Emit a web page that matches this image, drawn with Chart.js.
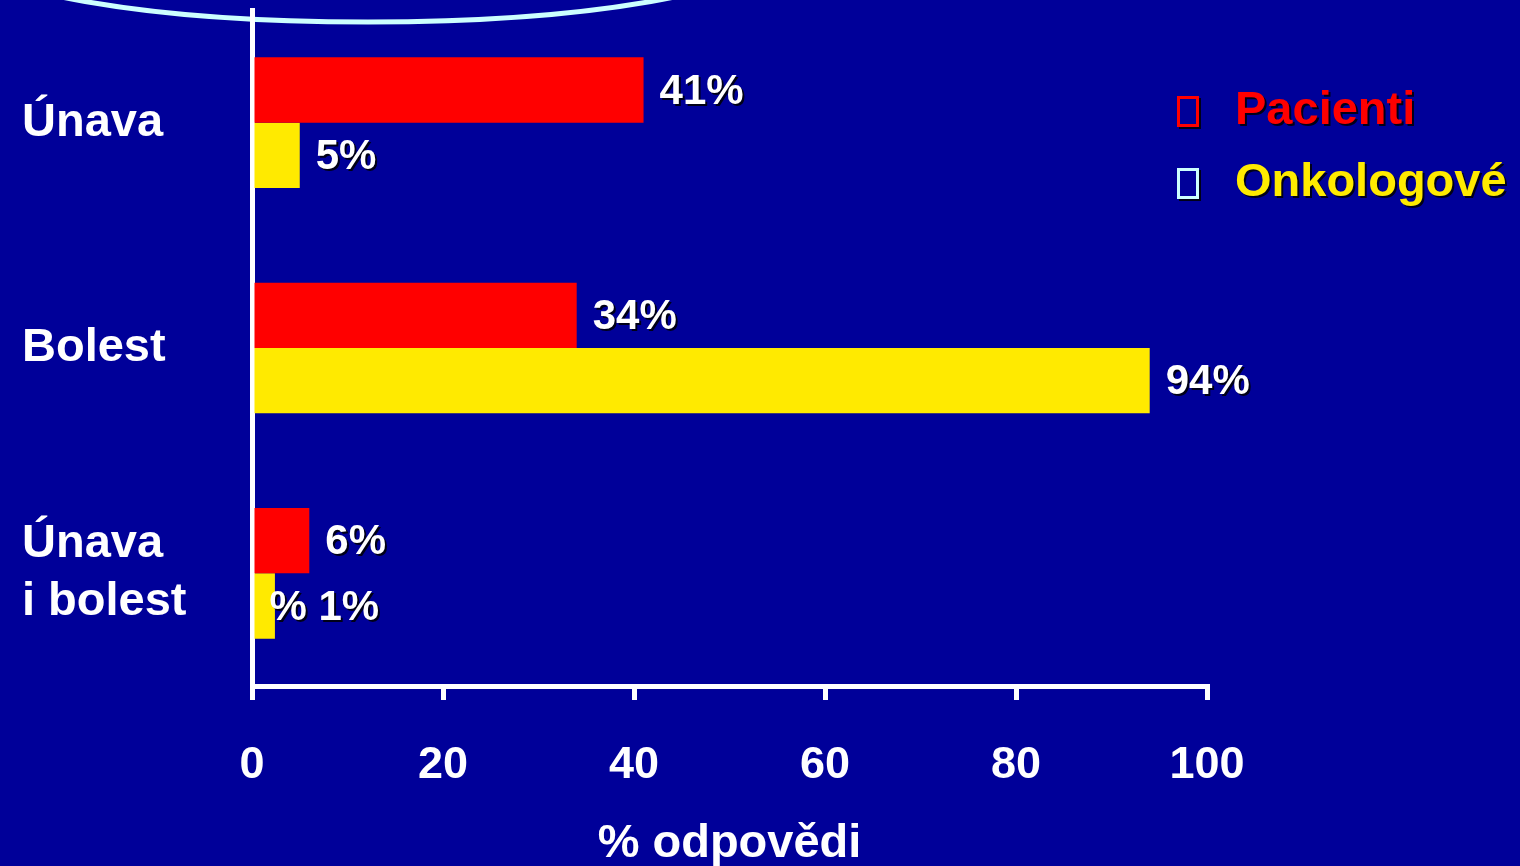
<!DOCTYPE html>
<html lang="cs">
<head>
<meta charset="UTF-8" />
<title>Únava a bolest</title>
<script src="https://cdn.jsdelivr.net/npm/chart.js"></script>
<style>
  html, body { margin: 0; padding: 0; background: #000099; }
  canvas { display: block; }
</style>
</head>
<body>
<canvas id="myChart" width="1520" height="866"></canvas>
<script>
const categories = [["Únava"], ["Bolest"], ["Únava", "i bolest"]];
const seriesNames = ["Pacienti", "Onkologové"];
const pacienti = [41, 34, 6];
const onkologove = [5, 94, 2.4];
const pacientiLabels = ["41%", "34%", "6%"];
const onkologoveLabels = ["5%", "94%", "% 1%"];
const xTicks = [0, 20, 40, 60, 80, 100];

const FONT = 'Arial, "Liberation Sans", sans-serif';
const BG = "#000099";
const RED = "#ff0000";
const YELLOW = "#ffea00";

// background + the pale arc at the top
const backdrop = {
  id: "backdrop",
  beforeDraw(chart) {
    const ctx = chart.ctx;
    ctx.save();
    ctx.fillStyle = BG;
    ctx.fillRect(0, 0, chart.width, chart.height);
    ctx.beginPath();
    ctx.ellipse(368, 22 - 70, 400, 70, 0, 0, Math.PI);
    ctx.strokeStyle = "#ccffff";
    ctx.lineWidth = 5;
    ctx.stroke();
    ctx.restore();
  }
};

function shadowText(ctx, txt, x, y, color) {
  ctx.fillStyle = "rgba(0,0,0,0.85)";
  ctx.fillText(txt, x + 2, y + 2);
  ctx.fillStyle = color;
  ctx.fillText(txt, x, y);
}

// value labels next to the bars
const barLabels = {
  id: "barLabels",
  afterDatasetsDraw(chart) {
    const ctx = chart.ctx;
    const labelSets = [pacientiLabels, onkologoveLabels];
    ctx.save();
    ctx.font = "bold 42px " + FONT;
    ctx.textAlign = "left";
    ctx.textBaseline = "middle";
    chart.data.datasets.forEach((ds, i) => {
      chart.getDatasetMeta(i).data.forEach((el, j) => {
        const txt = labelSets[i][j];
        const x = txt.startsWith("%") ? el.base + 15 : el.x + 16;
        shadowText(ctx, txt, x, el.y + 2, "#ffffff");
      });
    });
    ctx.restore();
  }
};

// legend with outlined boxes
const boxLegend = {
  id: "boxLegend",
  afterDraw(chart) {
    const ctx = chart.ctx;
    const boxColors = [RED, "#ccffff"];
    ctx.save();
    ctx.font = "bold 47px " + FONT;
    ctx.textBaseline = "middle";
    chart.data.datasets.forEach((ds, i) => {
      const y = 111 + i * 72;
      ctx.fillStyle = "rgba(0,0,0,0.85)";
      ctx.fillRect(1179, y - 13, 22, 31);
      ctx.fillStyle = BG;
      ctx.fillRect(1177, y - 15, 22, 31);
      ctx.strokeStyle = boxColors[i];
      ctx.lineWidth = 3;
      ctx.strokeRect(1178.5, y - 13.5, 19, 28);
      shadowText(ctx, ds.label, 1235, y, ds.backgroundColor);
    });
    ctx.restore();
  }
};

new Chart(document.getElementById("myChart"), {
  type: "bar",
  data: {
    labels: categories,
    datasets: [
      { label: seriesNames[0], data: pacienti, backgroundColor: RED },
      { label: seriesNames[1], data: onkologove, backgroundColor: YELLOW }
    ]
  },
  options: {
    indexAxis: "y",
    responsive: false,
    animation: false,
    devicePixelRatio: 1,
    categoryPercentage: 0.58,
    barPercentage: 1.0,
    layout: { padding: { left: 22, right: 313, top: 10, bottom: 0 } },
    plugins: {
      legend: { display: false },
      tooltip: { enabled: false }
    },
    scales: {
      x: {
        min: 0,
        max: 100,
        afterBuildTicks: (scale) => { scale.ticks = xTicks.map(v => ({ value: v })); },
        afterFit: (scale) => { scale.height = 180; },
        grid: { drawOnChartArea: false, drawTicks: true, tickLength: 14, color: "#ffffff", lineWidth: 5 },
        border: { display: true, color: "#ffffff", width: 5 },
        ticks: { color: "#ffffff", font: { family: FONT, size: 45, weight: "bold" }, padding: 39 },
        title: {
          display: true,
          text: "% odpovědi",
          color: "#ffffff",
          font: { family: FONT, size: 47, weight: "bold" },
          padding: { top: 0, bottom: -6 }
        }
      },
      y: {
        afterFit: (scale) => {
          scale.width = 230;
          scale.paddingTop = 0;
          scale.paddingBottom = 0;
        },
        grid: { drawOnChartArea: false, drawTicks: false },
        border: { display: true, color: "#ffffff", width: 5 },
        ticks: {
          color: "#ffffff",
          crossAlign: "far",
          font: { family: FONT, size: 47, weight: "bold", lineHeight: 1.23 }
        }
      }
    }
  },
  plugins: [backdrop, barLabels, boxLegend]
});
</script>
</body>
</html>
